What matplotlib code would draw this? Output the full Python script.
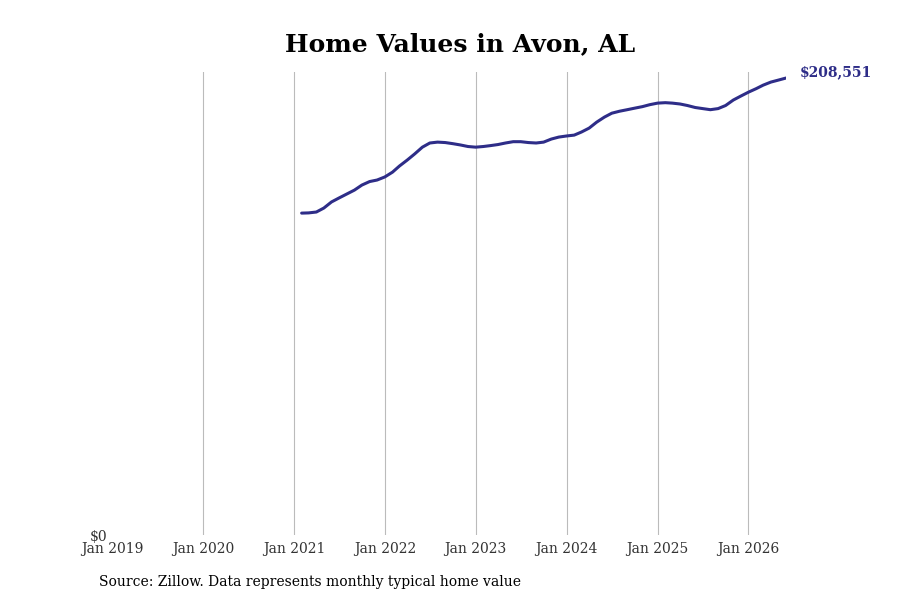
import matplotlib
matplotlib.use("Agg")
import matplotlib.pyplot as plt
import pandas as pd

title = "Home Values in Avon, AL"
source = "Source: Zillow. Data represents monthly typical home value"
start_month = "2021-02-01"
values = [
    146900, 147000, 147400, 149200, 152000, 153800, 155600, 157400, 159700, 161300, 162000,
    163400, 165600, 168400, 171100, 173900, 177000, 178900, 179300, 179100, 178600, 178000, 177300,
    177000, 177300, 177700, 178200, 178900, 179500, 179500, 179100, 178900, 179300, 180700, 181600,
    182100, 182500, 183900, 185700, 188400, 190700, 192500, 193400, 194100, 194800, 195500, 196400,
    197100, 197300, 197100, 196700, 196000, 195100, 194600, 194100, 194600, 196000, 198500, 200300,
    202100, 203700, 205300, 206700, 207600, 208551,
]
dates = pd.date_range(start_month, periods=len(values), freq="MS")
tick_years = list(range(2019, 2027))
tick_dates = [pd.Timestamp(f"{y}-01-01") for y in tick_years]
tick_labels = [f"Jan {y}" for y in tick_years]

line_color = "#2e2d88"
plt.rcParams['font.family'] = ['DejaVu Serif']

fig = plt.figure(figsize=(9, 6), dpi=100)
ax = fig.add_axes([0.1244, 0.1083, 0.749, 0.7717])
ax.plot(dates, values, color=line_color, linewidth=2.2, solid_capstyle='round')

ax.set_xlim(pd.Timestamp("2019-01-01"), dates[-1])
ax.set_ylim(0, 211300)
ax.set_xticks(tick_dates)
ax.set_xticklabels(tick_labels, fontsize=10, color="#333333")
ax.set_yticks([0])
ax.set_yticklabels(["$0"], fontsize=10, color="#333333")
ax.tick_params(length=0, pad=5)
ax.tick_params(axis='y', pad=3.5)
ax.grid(axis='x', color="#bbbbbb", linewidth=0.8)
ax.grid(axis='y', visible=False)
gl = ax.get_xgridlines()
if gl:
    gl[0].set_visible(False)
for s in ax.spines.values():
    s.set_visible(False)

ax.annotate(f"${values[-1]:,}", xy=(dates[-1], values[-1]), xytext=(10, 4),
            textcoords='offset points', fontsize=10, fontweight='bold',
            color=line_color, va='center', ha='left', annotation_clip=False)

fig.text(0.511, 0.927, title, ha='center', va='center', fontsize=18, fontweight='bold')
fig.text(0.11, 0.03, source, ha='left', va='center', fontsize=10)

fig.savefig("out.png", dpi=100)
